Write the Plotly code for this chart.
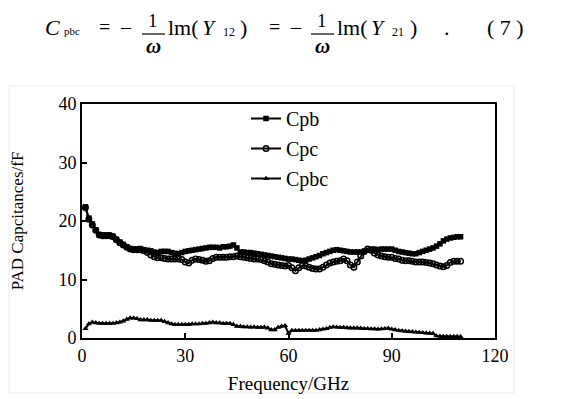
import plotly.graph_objects as go

freq = list(range(1, 111))

cpb = [22.4, 20.5, 19.5, 18.5, 17.7, 17.6, 17.6, 17.6, 17.4, 16.9,
       16.4, 16.0, 15.6, 15.3, 15.2, 15.2, 15.3, 15.1, 15.0, 14.9,
       14.7, 14.6, 14.8, 14.8, 14.8, 14.6, 14.5, 14.4, 14.6, 14.8,
       14.9, 15.0, 15.1, 15.2, 15.3, 15.4, 15.5, 15.5, 15.5, 15.4,
       15.6, 15.6, 15.7, 15.9, 15.4, 14.7, 14.7, 14.6, 14.6, 14.5,
       14.4, 14.3, 14.2, 14.1, 14.0, 13.9, 13.8, 13.7, 13.6, 13.5,
       13.5, 13.4, 13.3, 13.2, 13.3, 13.5, 13.7, 13.9, 14.1, 14.4,
       14.6, 14.8, 15.0, 15.1, 15.0, 14.9, 14.8, 14.7, 14.7, 14.7,
       14.7, 14.8, 15.0, 15.2, 15.2, 15.1, 15.2, 15.2, 15.2, 15.2,
       15.0, 14.8, 14.7, 14.6, 14.5, 14.4, 14.4, 14.6, 14.8, 15.0,
       15.2, 15.4, 15.7, 16.1, 16.6, 16.9, 17.1, 17.2, 17.3, 17.3]

cpc = [22.3, 20.3, 19.3, 18.4, 17.6, 17.5, 17.5, 17.5, 17.3, 16.8,
       16.3, 15.9, 15.5, 15.2, 15.1, 15.1, 15.1, 14.9, 14.6, 14.2,
       13.9, 13.7, 13.7, 13.6, 13.5, 13.5, 13.5, 13.5, 13.4, 13.0,
       12.8, 13.3, 13.5, 13.4, 13.3, 13.1, 13.2, 13.6, 13.8, 13.8,
       13.8, 13.8, 13.9, 13.9, 14.0, 13.9, 13.8, 13.7, 13.6, 13.5,
       13.5, 13.4, 13.2, 13.0, 12.7, 12.6, 12.5, 12.4, 12.3, 12.4,
       12.0, 11.5, 12.0, 12.4, 12.3, 12.1, 11.9, 11.8, 11.8, 12.1,
       12.5, 12.8, 13.0, 13.1, 13.2, 13.5, 13.2, 12.5, 12.1, 13.0,
       14.0, 14.8, 15.2, 15.0, 14.5, 14.2, 14.0, 13.9, 13.8, 13.8,
       13.6, 13.5, 13.3, 13.2, 13.2, 13.1, 13.0, 13.0, 13.0, 12.9,
       12.8, 12.7, 12.5, 12.3, 12.2, 12.4, 12.9, 13.1, 13.1, 13.1]

cpbc = [1.6, 2.4, 2.7, 2.6, 2.5, 2.5, 2.5, 2.5, 2.5, 2.6,
        2.7, 2.9, 3.2, 3.4, 3.4, 3.3, 3.1, 3.1, 3.1, 3.0,
        3.0, 3.0, 3.0, 2.8, 2.6, 2.4, 2.3, 2.3, 2.3, 2.3,
        2.3, 2.4, 2.4, 2.4, 2.5, 2.5, 2.6, 2.7, 2.6, 2.6,
        2.5, 2.5, 2.5, 2.3, 2.0, 2.0, 1.9, 1.9, 1.85, 1.9,
        1.8, 1.8, 1.85, 1.7, 1.4, 1.4, 1.8, 2.0, 2.1, 0.8,
        1.3, 1.3, 1.3, 1.3, 1.3, 1.3, 1.3, 1.3, 1.4, 1.5,
        1.6, 1.8, 1.9, 1.85, 1.8, 1.8, 1.75, 1.7, 1.7, 1.7,
        1.65, 1.6, 1.6, 1.55, 1.55, 1.5, 1.55, 1.6, 1.65, 1.5,
        1.4, 1.3, 1.2, 1.15, 1.1, 1.05, 1.0, 0.95, 0.9, 0.85,
        0.8, 0.75, 0.35, 0.3, 0.25, 0.25, 0.25, 0.25, 0.25, 0.25]

series_names = ["Cpb", "Cpc", "Cpbc"]
x_ticks = [0, 30, 60, 90, 120]
y_ticks = [0, 10, 20, 30, 40]

SERIF = "Liberation Serif, Times New Roman, serif"

fig = go.Figure()
fig.add_trace(go.Scatter(x=freq, y=cpb, name=series_names[0], mode="lines+markers",
                         legendgroup="a",
                         line=dict(color="black", width=2),
                         marker=dict(symbol="square", size=5.5, color="black")))
fig.add_trace(go.Scatter(x=freq, y=cpc, name=series_names[1], mode="lines+markers",
                         legendgroup="b",
                         line=dict(color="black", width=2),
                         marker=dict(symbol="circle-open", size=5.5, color="black",
                                     line=dict(width=1.5, color="black"))))
fig.add_trace(go.Scatter(x=freq, y=cpbc, name=series_names[2], mode="lines+markers",
                         legendgroup="c",
                         line=dict(color="black", width=2),
                         marker=dict(symbol="triangle-up", size=5.5, color="black")))

# page body has an 8px margin: work in window pixels, convert to figure pixels
OFF = 8
W, H = 578 - OFF, 399 - OFF
L, R, T, B = 82 - OFF, 83, 104 - OFF, 61
pw, ph = W - L - R, H - T - B


def px2paper(px, py):
    px -= OFF
    py -= OFF
    return (px - L) / pw, (H - B - py) / ph


annotations = []


def add_text(px, py, text, size, xanchor="center"):
    x, y = px2paper(px, py)
    annotations.append(dict(x=x, y=y, xref="paper", yref="paper", text=text,
                            showarrow=False, xanchor=xanchor, yanchor="middle",
                            font=dict(family=SERIF, size=size, color="black")))


# Equation (7)
add_text(52, 27, "<i>C</i>", 22)
add_text(72, 31, "pbc", 11)
add_text(104, 27, "=", 20)
add_text(126, 27, "–", 20)
add_text(153, 21, "1", 19)
add_text(153, 46, "<b><i>ω</i></b>", 21)
add_text(166, 27, "lm(", 22, xanchor="left")
add_text(209, 27, "<i>Y</i>", 22)
add_text(229, 32, "12", 12)
add_text(243, 27, ")", 22)
add_text(274, 27, "=", 20)
add_text(296, 27, "–", 20)
add_text(322, 21, "1", 19)
add_text(322, 46, "<b><i>ω</i></b>", 21)
add_text(335, 27, "lm(", 22, xanchor="left")
add_text(378, 27, "<i>Y</i>", 22)
add_text(398, 32, "21", 12)
add_text(413, 27, ")", 22)
add_text(447, 27, ".", 22)
add_text(505, 27, "( 7 )", 22)

shapes = []
for x0, x1 in [(142, 165), (311, 334)]:
    a, y = px2paper(x0, 34)
    b, _ = px2paper(x1, 34)
    shapes.append(dict(type="line", xref="paper", yref="paper", x0=a, x1=b, y0=y, y1=y,
                       line=dict(color="black", width=1.2)))

# faint frame of the figure image
fx0, fy0 = px2paper(9, 393)
fx1, fy1 = px2paper(514, 86)
shapes.append(dict(type="rect", xref="paper", yref="paper", x0=fx0, x1=fx1, y0=fy0, y1=fy1,
                   line=dict(color="#ececec", width=1), layer="below"))

lx, ly = px2paper(246, 99)

fig.update_layout(
    width=W, height=H,
    margin=dict(l=L, r=R, t=T, b=B, pad=0),
    paper_bgcolor="white", plot_bgcolor="white",
    font=dict(family=SERIF, size=17, color="black"),
    showlegend=True,
    legend=dict(x=lx, y=ly, xanchor="left", yanchor="top",
                bgcolor="rgba(0,0,0,0)", font=dict(family=SERIF, size=20),
                tracegroupgap=1, itemwidth=30),
    annotations=annotations,
    shapes=shapes,
    xaxis=dict(range=[0, 120], tickvals=x_ticks, ticktext=[str(v) for v in x_ticks],
               showline=True, mirror=True, linecolor="black", linewidth=2,
               ticks="inside", ticklen=5, tickwidth=1.5, tickcolor="black",
               showgrid=False, zeroline=False, automargin=False,
               title=dict(text="Frequency/GHz", font=dict(family=SERIF, size=19), standoff=12),
               tickfont=dict(family=SERIF, size=18)),
    yaxis=dict(range=[0, 40], tickvals=y_ticks, ticktext=[str(v) for v in y_ticks],
               showline=True, mirror=True, linecolor="black", linewidth=2,
               ticks="inside", ticklen=5, tickwidth=1.5, tickcolor="black",
               showgrid=False, zeroline=False, automargin=False,
               title=dict(text="PAD Capcitances/fF", font=dict(family=SERIF, size=17), standoff=36),
               tickfont=dict(family=SERIF, size=18)),
)

fig.write_html("out.html")
